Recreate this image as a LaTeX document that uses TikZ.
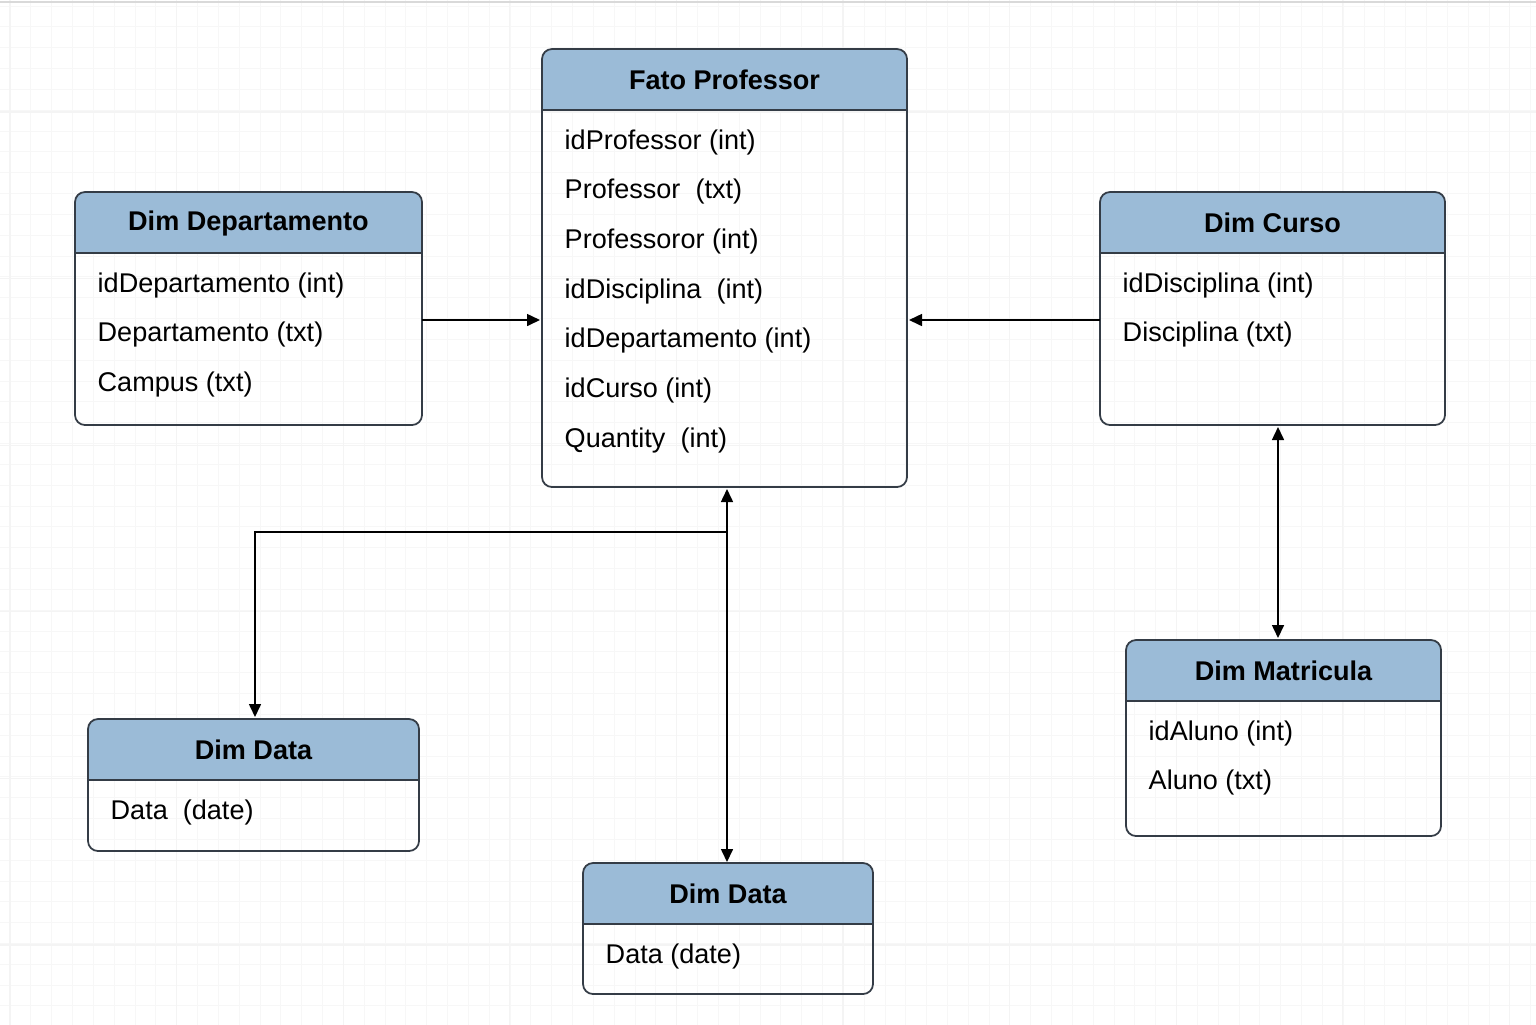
\documentclass[tikz,border=0pt]{standalone}
\usepackage{fontspec}
\setmainfont{Liberation Sans}
\usetikzlibrary{calc,arrows.meta}
\definecolor{hdrblue}{RGB}{155,187,215}
\definecolor{edgegray}{RGB}{52,60,70}
\tikzset{
	tbl/.style={anchor=north west, inner sep=0pt, outer sep=0pt},
	tbl edge/.style={draw=edgegray, line width=0.5pt, rounded corners=0.1cm},
	hdr text/.style={inner sep=0pt, font=\fontsize{7.7}{9.2}\selectfont\bfseries},
	row text/.style={anchor=west, inner sep=0pt},
	link/.style={line width=0.45pt, -{Triangle[length=1.3mm,width=1.2mm]}},
}
% box with a blue title band and one line per field
\def\tablebox(#1)(#2,#3)(#4,#5)#6#7{%
	\node[tbl, minimum width=#4cm, minimum height=#5cm] (#1) at (#2,#3) {};
	\begin{scope}
		\clip[rounded corners=0.1cm] (#1.north west) rectangle (#1.south east);
		\fill[hdrblue] (#1.north west) rectangle ($(#1.north east)+(0,-0.61)$);
	\end{scope}
	\draw[draw=edgegray, line width=0.5pt] ($(#1.north west)+(0,-0.61)$) -- ($(#1.north east)+(0,-0.61)$);
	\draw[tbl edge] (#1.north west) rectangle (#1.south east);
	\node[hdr text] (#1-title) at ($(#1.north)+(0,-0.31)$) {#6};
	\foreach \rowtxt [count=\i] in {#7}
		\node[row text] (#1-\i) at ($(#1.north west)+(0.22,-0.93-0.497*\i+0.497)$) {\rowtxt};
}

\begin{document}
\begin{tikzpicture}[font=\fontsize{7.7}{9.2}\selectfont]
			%%%%% START %%%%%
			
			\useasboundingbox (0,0) rectangle (15.36,-10.24);
			\fill[white] (0,0) rectangle (15.36,-10.24);
			
			% paper grid
			\begin{scope}
				\clip (0,0) rectangle (15.36,-10.24);
				\draw[black!3, line width=0.2pt, shift={(0.1,-0.06)}, step=0.2083] (-0.5,-10.5) grid (15.5,0.5);
				\draw[black!4.5, line width=0.3pt, shift={(0.1,-1.12)}, step=1.666] (-2,-10) grid (16,2);
			\end{scope}
			\draw[black!15, line width=0.4pt] (0,-0.02) -- (15.36,-0.02);
			
			% tables
			\tablebox(fato)(5.42,-0.49)(3.65,4.38){Fato Professor}{idProfessor (int), Professor\ \ (txt), Professoror (int), idDisciplina\ \ (int), idDepartamento (int), idCurso (int), Quantity\ \ (int)}
			\tablebox(depto)(0.75,-1.92)(3.47,2.33){Dim Departamento}{idDepartamento (int), Departamento (txt), Campus (txt)}
			\tablebox(curso)(11.0,-1.92)(3.45,2.33){Dim Curso}{idDisciplina (int), Disciplina (txt)}
			\tablebox(matric)(11.26,-6.40)(3.15,1.96){Dim Matricula}{idAluno (int), Aluno (txt)}
			\tablebox(datal)(0.88,-7.19)(3.31,1.32){Dim Data}{Data\ \ (date)}
			\tablebox(datab)(5.83,-8.63)(2.90,1.31){Dim Data}{Data (date)}
			
			% links
			\coordinate (ylink) at (0,-3.20);
			\coordinate (xmid) at (7.27,0);
			\coordinate (xright) at (12.78,0);
			\coordinate (branch) at (7.27,-5.32);
			
			\draw[link, shorten >=0.02cm] (depto.east |- ylink) -- (fato.west |- ylink);
			\draw[link, shorten >=0.02cm] (curso.west |- ylink) -- (fato.east |- ylink);
			\draw[link, {Triangle[length=1.3mm,width=1.2mm]}-{Triangle[length=1.3mm,width=1.2mm]}, shorten <=0.02cm, shorten >=0.01cm] (fato.south -| xmid) -- (datab.north -| xmid);
			\draw[link, shorten >=0.02cm] (branch) -| (datal.north -| 2.55,0);
			\draw[link, {Triangle[length=1.3mm,width=1.2mm]}-{Triangle[length=1.3mm,width=1.2mm]}, shorten <=0.02cm, shorten >=0.02cm] (curso.south -| xright) -- (matric.north -| xright);
			
			%%%%% END %%%%%
		\end{tikzpicture}
\end{document}
